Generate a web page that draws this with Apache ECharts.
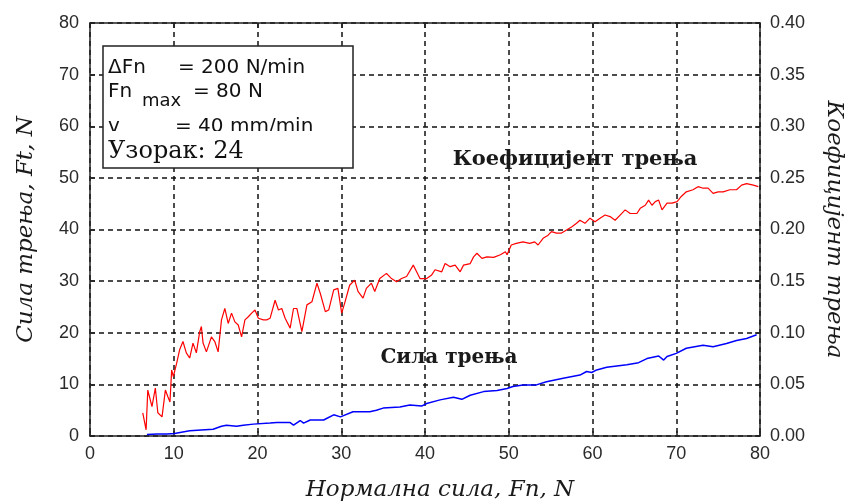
<!DOCTYPE html>
<html>
<head>
<meta charset="utf-8">
<script src="https://cdn.jsdelivr.net/npm/echarts@6/dist/echarts.min.js"></script>
<style>
  html, body { margin: 0; padding: 0; background: #fff; }
  #box { width: 848px; height: 503px; }
</style>
</head>
<body>
<div id="box"></div>
<script>
// Коефицијент трења (десна оса) - нормална сила Fn и вредност коефицијента
const fnCoef = [6.3, 6.7, 6.9, 7.4, 7.8, 8.1, 8.6, 9.0, 9.3, 9.55, 9.75, 9.95, 10.35, 10.7, 11.1, 11.5, 11.9, 12.3, 12.7, 13.1,
  13.3, 13.5, 13.9, 14.5, 14.9, 15.3, 15.7, 16.1, 16.5, 16.9, 17.3, 17.7, 18.1, 18.5, 18.9, 19.3, 19.7, 20.1, 20.7, 21.1,
  21.5, 22.1, 22.5, 22.9, 23.3, 23.9, 24.3, 24.7, 25.3, 25.9, 26.5, 27.1, 27.5, 28.1, 28.5, 29.1, 29.6, 30.05, 30.4, 31.0,
  31.6, 32.0, 32.6, 33.0, 33.6, 34.0, 34.6, 35.4, 36.0, 36.6, 37.2, 37.8, 38.6, 39.0, 39.4, 40.2, 40.8, 41.2, 42.0, 42.4,
  43.0, 43.6, 44.2, 44.6, 45.4, 45.8, 46.2, 46.8, 47.4, 48.2, 49.0, 49.6, 49.8, 50.3, 50.9, 51.7, 52.5, 53.1, 53.5, 54.1,
  54.7, 55.1, 55.7, 56.3, 56.9, 57.5, 58.1, 58.5, 59.1, 59.7, 60.3, 60.9, 61.5, 62.1, 62.7, 63.3, 63.9, 64.5, 65.3, 65.7,
  66.3, 66.7, 67.1, 67.5, 67.9, 68.3, 68.9, 69.5, 70.1, 70.6, 71.2, 72.0, 72.6, 73.2, 73.8, 74.4, 75.0, 75.6, 76.4, 77.2,
  77.8, 78.4, 79.2, 79.8];
const coefValues = [0.0225, 0.006, 0.0445, 0.0285, 0.0465, 0.0225, 0.0185, 0.0445, 0.038, 0.033, 0.064, 0.0575, 0.0705, 0.0835, 0.0915, 0.0805, 0.0755, 0.090, 0.0805, 0.101,
  0.106, 0.090, 0.0815, 0.096, 0.0915, 0.0815, 0.1125, 0.1235, 0.109, 0.119, 0.1105, 0.1075, 0.096, 0.1125, 0.1155, 0.119, 0.122, 0.114, 0.1125, 0.1125,
  0.114, 0.1315, 0.122, 0.1235, 0.114, 0.1045, 0.1235, 0.1235, 0.101, 0.127, 0.130, 0.148, 0.138, 0.1205, 0.122, 0.1415, 0.143, 0.119, 0.1285, 0.146,
  0.151, 0.140, 0.1335, 0.143, 0.148, 0.140, 0.1525, 0.1575, 0.1525, 0.1495, 0.1525, 0.1545, 0.1655, 0.159, 0.1525, 0.1525, 0.156, 0.161, 0.159, 0.167,
  0.164, 0.1655, 0.159, 0.1655, 0.167, 0.1735, 0.177, 0.172, 0.1735, 0.173, 0.1755, 0.1785, 0.1755, 0.185, 0.1865, 0.188, 0.1865, 0.188, 0.185, 0.1915,
  0.1945, 0.198, 0.1965, 0.1965, 0.1995, 0.2025, 0.206, 0.209, 0.206, 0.211, 0.2075, 0.211, 0.214, 0.2125, 0.209, 0.214, 0.219, 0.2155, 0.2155, 0.2205,
  0.2235, 0.2285, 0.2235, 0.227, 0.2285, 0.219, 0.2255, 0.2255, 0.227, 0.232, 0.2365, 0.2385, 0.2415, 0.240, 0.240, 0.235, 0.2365, 0.2365, 0.2385, 0.2385,
  0.243, 0.2445, 0.243, 0.2415];

// Сила трења (лева оса), N
const fnForce = [6.8, 8.0, 9.2, 10.1, 11.9, 14.7, 15.7, 16.3, 17.5, 18.3, 19.5, 21.5, 22.3, 23.9, 24.3, 25.1, 25.5, 26.3, 27.9, 29.1,
  29.9, 31.4, 33.4, 34.2, 35.0, 37.0, 38.2, 39.6, 40.2, 41.8, 43.4, 44.4, 45.4, 47.0, 48.6, 49.8, 50.5, 51.7, 53.3, 54.5,
  56.5, 58.5, 59.3, 59.9, 60.5, 61.7, 64.1, 65.5, 66.5, 67.9, 68.5, 68.9, 70.0, 71.2, 73.2, 74.4, 76.0, 77.2, 78.4, 79.6];
const forceValues = [0.3, 0.4, 0.4, 0.5, 1.0, 1.3, 1.9, 2.1, 1.9, 2.1, 2.3, 2.5, 2.6, 2.6, 2.1, 3.0, 2.5, 3.1, 3.1, 4.1,
  3.7, 4.7, 4.7, 5.0, 5.4, 5.6, 6.0, 5.8, 6.3, 7.0, 7.5, 7.1, 7.9, 8.6, 8.8, 9.2, 9.6, 9.9, 9.9, 10.5,
  11.2, 11.8, 12.5, 12.3, 12.8, 13.3, 13.8, 14.2, 15.0, 15.5, 14.7, 15.4, 16.0, 17.0, 17.6, 17.3, 17.9, 18.5, 18.9, 19.6];

const infoLines = ["ΔFn", "= 200 N/min", "Fn", "max", "= 80 N", "v", "= 40 mm/min", "Узорак: 24"];

let myChart = echarts.init(document.getElementById("box"));

const sans = "Liberation Sans, Arial, sans-serif";
const wideSans = "DejaVu Sans, sans-serif";
const serif = "DejaVu Serif, serif";
const gridDash = { show: true, lineStyle: { color: "#111", type: [5, 4], width: 1.5 } };
const frameLine = { show: true, onZero: false, lineStyle: { color: "#222", width: 1.5 } };
const tick = { show: true, inside: true, length: 5, lineStyle: { color: "#222", width: 1.5 } };
const tickLabel = { color: "#2a2a2a", fontSize: 18, fontFamily: sans };
const nameStyle = { fontFamily: serif, fontStyle: "italic", fontSize: 23, color: "#1a1a1a" };

let option = {
  animation: false,
  backgroundColor: "#fff",
  grid: { left: 90, right: 88, top: 23, bottom: 67, outerBoundsMode: "none", containLabel: false },
  xAxis: [
    {
      type: "value", position: "bottom", min: 0, max: 80, interval: 10,
      axisLine: frameLine, axisTick: tick, splitLine: gridDash,
      axisLabel: Object.assign({ margin: 9 }, tickLabel),
      name: "Нормална сила, Fn, N", nameLocation: "middle", nameGap: 43,
      nameTextStyle: Object.assign({ padding: [0, 0, 0, 30] }, nameStyle)
    },
    {
      type: "value", position: "top", min: 0, max: 80, interval: 10,
      axisLine: frameLine, axisTick: tick, splitLine: { show: false }, axisLabel: { show: false }
    }
  ],
  yAxis: [
    {
      type: "value", position: "left", min: 0, max: 80, interval: 10,
      axisLine: frameLine, axisTick: tick, splitLine: gridDash,
      axisLabel: Object.assign({ margin: 11 }, tickLabel),
      name: "Сила трења, Ft, N", nameLocation: "middle", nameGap: 52,
      nameTextStyle: nameStyle
    },
    {
      type: "value", position: "right", min: 0, max: 0.4, interval: 0.05,
      axisLine: frameLine, axisTick: tick, splitLine: { show: false },
      axisLabel: Object.assign({ margin: 10, formatter: (v) => v.toFixed(2) }, tickLabel),
      name: "Коефицијент трења", nameLocation: "middle", nameGap: 62, nameRotate: -90,
      nameTextStyle: nameStyle
    }
  ],
  series: [
    {
      name: "Коефицијент трења", type: "line", xAxisIndex: 0, yAxisIndex: 1,
      data: fnCoef.map((x, i) => [x, coefValues[i]]),
      showSymbol: false, lineStyle: { color: "#ff0000", width: 1.2 }, z: 3
    },
    {
      name: "Сила трења", type: "line", xAxisIndex: 0, yAxisIndex: 0,
      data: fnForce.map((x, i) => [x, forceValues[i]]),
      showSymbol: false, lineStyle: { color: "#0000ff", width: 1.5 }, z: 3
    }
  ],
  graphic: [
    { type: "text", x: 575, y: 160, z: 10,
      style: { text: "Коефицијент трења", fontFamily: serif, fontWeight: "bold", fontSize: 21, fill: "#1a1a1a", align: "center", verticalAlign: "middle" } },
    { type: "text", x: 449, y: 358, z: 10,
      style: { text: "Сила трења", fontFamily: serif, fontWeight: "bold", fontSize: 20, fill: "#1a1a1a", align: "center", verticalAlign: "middle" } },
    { type: "rect", shape: { x: 103, y: 46, width: 250, height: 122 }, z: 10,
      style: { fill: "#fff", stroke: "#222", lineWidth: 1.5 } },
    { type: "text", x: 108, y: 68, z: 11, style: { text: infoLines[0], fontFamily: wideSans, fontSize: 20, fill: "#111", verticalAlign: "middle" } },
    { type: "text", x: 178, y: 68, z: 11, style: { text: infoLines[1], fontFamily: wideSans, fontSize: 20, fill: "#111", verticalAlign: "middle" } },
    { type: "text", x: 108, y: 92, z: 11, style: { text: infoLines[2], fontFamily: wideSans, fontSize: 20, fill: "#111", verticalAlign: "middle" } },
    { type: "text", x: 142, y: 101, z: 11, style: { text: infoLines[3], fontFamily: wideSans, fontSize: 18, fill: "#111", verticalAlign: "middle" } },
    { type: "text", x: 193, y: 92, z: 11, style: { text: infoLines[4], fontFamily: wideSans, fontSize: 20, fill: "#111", verticalAlign: "middle" } },
    { type: "text", x: 108, y: 127, z: 11, style: { text: infoLines[5], fontFamily: wideSans, fontSize: 20, fill: "#111", verticalAlign: "middle" } },
    { type: "text", x: 175, y: 127, z: 11, style: { text: infoLines[6], fontFamily: wideSans, fontSize: 20, fill: "#111", verticalAlign: "middle" } },
    { type: "rect", shape: { x: 104, y: 131, width: 248, height: 36 }, z: 12, style: { fill: "#fff" } },
    { type: "text", x: 108, y: 152, z: 13, style: { text: infoLines[7], fontFamily: serif, fontSize: 24, fill: "#111", verticalAlign: "middle" } }
  ]
};
myChart.setOption(option);
</script>
</body>
</html>
